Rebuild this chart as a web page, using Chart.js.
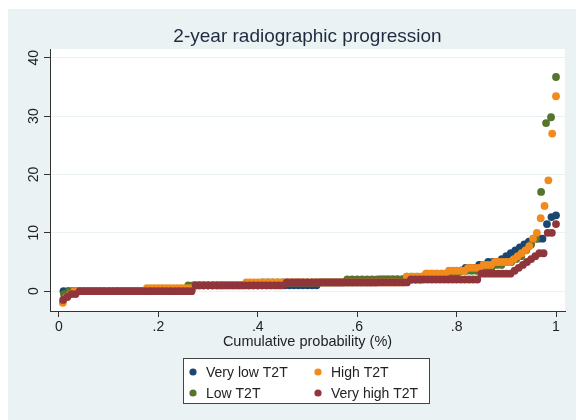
<!DOCTYPE html>
<html>
<head>
<meta charset="utf-8">
<script src="https://cdn.jsdelivr.net/npm/chart.js@4/dist/chart.umd.min.js"></script>
<style>
html, body { margin: 0; padding: 0; background: #fff; }
#wrap { position: relative; width: 576px; height: 420px; }
</style>
</head>
<body>
<div id="wrap"><canvas id="grafico" width="576" height="420"></canvas></div>
<script>
// Valores ordenados de cada grupo, como [valor, repeticiones]
const veryLowRuns = [[0,29],[1,28],[1.5,13],[2,10],[2.5,5],[3,3],[3.5,1],[4,3],[4.5,2],[5,3],[5.5,1],
    [6,1],[6.5,1],[7,1],[7.5,1],[8,1],[8.5,1],[9,3],[11.5,1],[12.7,1],[13,1]];
const lowRuns = [[-0.5,1],[0,24],[1,15],[1.5,17],[2,12],[2.5,4],[3,7],[3.5,4],[4,3],[4.5,2],[5,2],
    [5.5,1],[6,1],[7,1],[8,1],[9,1],[17,1],[28.8,1],[29.8,1],[36.7,1]];
const highRuns = [[-2,1],[-1,1],[-0.5,1],[0,19],[0.5,13],[1,13],[1.5,42],[2.5,5],[3,6],[3.5,5],[4,4],[4.5,3],[5,5],
    [5.5,1],[6,1],[6.5,1],[7,1],[7.7,1],[9,1],[10,1],[12.5,1],[14.6,1],[19,1],[27,1],[33.4,1]];
const veryHighRuns = [[-1.5,1],[-1,1],[-0.5,2],[0,28],[1,22],[1.5,30],[2,17],[3,8],[3.5,1],[4,1],
    [4.5,1],[5,1],[5.5,1],[6,1],[6.5,2],[10,2],[11.5,1]];

const groupLabels = ['Very low T2T', 'High T2T', 'Low T2T', 'Very high T2T'];
const xTicks = [0, 0.2, 0.4, 0.6, 0.8, 1];
const xTickLabels = ['0', '.2', '.4', '.6', '.8', '1'];
const yTicks = [0, 10, 20, 30, 40];
const yTickLabels = ['0', '10', '20', '30', '40'];

const FUENTE = "'Liberation Sans', Arial, sans-serif";

// Probabilidad acumulada: rango / n
function aPuntos(runs) {
    const vals = [];
    runs.forEach(([v, n]) => { for (let k = 0; k < n; k++) vals.push(v); });
    return vals.map((v, i) => ({ x: (i + 1) / vals.length, y: v }));
}

function serie(label, runs, color, orden) {
    return {
        label: label,
        data: aPuntos(runs),
        backgroundColor: color,
        borderWidth: 0,
        pointRadius: 3.9,
        pointHoverRadius: 3.9,
        order: orden
    };
}

// Fondo estilo Stata
const fondo = {
    id: 'fondo',
    beforeDraw(chart) {
        const ctx = chart.ctx, a = chart.chartArea;
        ctx.save();
        ctx.fillStyle = '#ffffff';
        ctx.fillRect(0, 0, chart.width, chart.height);
        ctx.fillStyle = '#eaf2f3';
        ctx.fillRect(8, 9, chart.width - 8, chart.height - 9);
        ctx.fillStyle = '#ffffff';
        ctx.fillRect(a.left, a.top, a.right - a.left, a.bottom - a.top);
        ctx.restore();
    }
};

// Título, etiquetas verticales del eje y, y leyenda en recuadro
const extras = {
    id: 'extras',
    afterDraw(chart) {
        const ctx = chart.ctx, a = chart.chartArea;
        ctx.save();
        ctx.fillStyle = '#1f2a40';
        ctx.font = '19px ' + FUENTE;
        ctx.textAlign = 'center';
        ctx.textBaseline = 'middle';
        ctx.fillText('2-year radiographic progression', (a.left + a.right) / 2, 37);

        const y = chart.scales.y;
        ctx.fillStyle = '#222';
        ctx.font = '14px ' + FUENTE;
        yTicks.forEach((v, i) => {
            ctx.save();
            ctx.translate(34, y.getPixelForValue(v));
            ctx.rotate(-Math.PI / 2);
            ctx.fillText(yTickLabels[i], 0, 0);
            ctx.restore();
        });

        // leyenda
        ctx.fillStyle = '#ffffff';
        ctx.fillRect(183, 358, 246, 45);
        ctx.strokeStyle = '#444';
        ctx.lineWidth = 1;
        ctx.strokeRect(183.5, 358.5, 246, 45);
        const cols = [193, 318], filas = [372, 393];
        ctx.textAlign = 'left';
        chart.data.datasets.forEach((ds, i) => {
            const cx = cols[i % 2], cy = filas[Math.floor(i / 2)];
            ctx.fillStyle = ds.backgroundColor;
            ctx.beginPath();
            ctx.arc(cx, cy, 3.6, 0, Math.PI * 2);
            ctx.fill();
            ctx.fillStyle = '#222';
            ctx.fillText(ds.label, cx + 13, cy + 1);
        });
        ctx.restore();
    }
};

new Chart(document.getElementById('grafico'), {
    type: 'scatter',
    data: {
        datasets: [
            serie(groupLabels[0], veryLowRuns, '#1a476f', 3),
            serie(groupLabels[1], highRuns, '#f28a1c', 1),
            serie(groupLabels[2], lowRuns, '#55752f', 2),
            serie(groupLabels[3], veryHighRuns, '#90353b', 0)
        ]
    },
    options: {
        responsive: false,
        animation: false,
        devicePixelRatio: 1,
        layout: { padding: { left: 10, right: 11, top: 49, bottom: 66 } },
        plugins: {
            legend: { display: false },
            tooltip: { enabled: false }
        },
        scales: {
            x: {
                type: 'linear',
                min: -0.0181,
                max: 1.0181,
                afterBuildTicks: s => { s.ticks = xTicks.map(v => ({ value: v })); },
                afterFit: s => { s.height = 43; },
                ticks: {
                    callback: (v, i) => xTickLabels[i],
                    font: { family: FUENTE, size: 14 },
                    color: '#222',
                    padding: 2,
                    maxRotation: 0
                },
                grid: { drawOnChartArea: false, tickLength: 6, tickColor: '#333' },
                border: { color: '#333' },
                title: {
                    display: true,
                    text: 'Cumulative probability (%)',
                    font: { family: FUENTE, size: 14.5 },
                    color: '#222',
                    padding: { top: 0, bottom: 3 }
                }
            },
            y: {
                min: -3.4,
                max: 41.5,
                afterBuildTicks: s => { s.ticks = yTicks.map(v => ({ value: v })); },
                afterFit: s => { s.width = 40; },
                ticks: { display: false },
                grid: { color: '#eaf2f3', tickLength: 6, tickColor: '#333' },
                border: { color: '#333' }
            }
        }
    },
    plugins: [fondo, extras]
});
</script>
</body>
</html>
